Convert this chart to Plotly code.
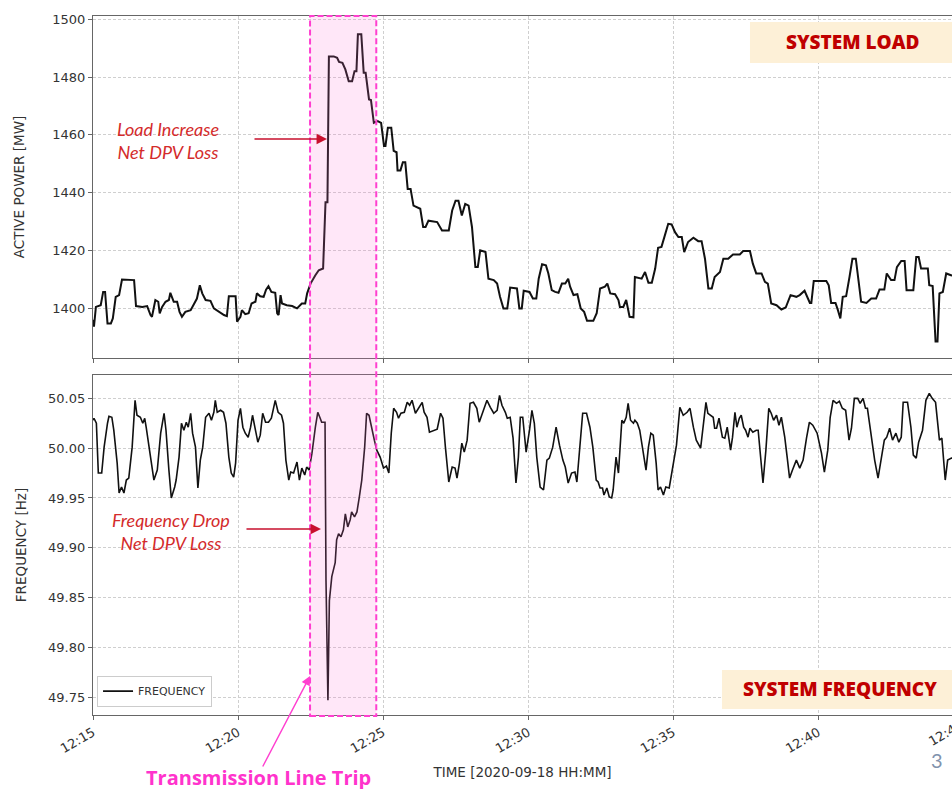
import pandas as pd
import plotly.graph_objects as go

# ---------------- data ----------------
BASE_TIME = "2020-09-18 12:15:00"

# System load: seconds after 12:15:00 and active power [MW]
LOAD_T_SEC = [0, 2, 6, 16, 21, 25, 30, 37, 41, 47, 54, 60, 85, 89, 102, 112, 119, 122, 129, 135,
              138, 143, 150, 157, 160, 167, 174, 179, 184, 191, 202, 209, 215, 221, 226, 233, 243, 250, 260, 271,
              277, 281, 295, 298, 305, 308, 315, 322, 328, 336, 339, 346, 353, 358, 363, 369, 377, 381, 384, 388,
              391, 401, 412, 422, 432, 439, 443, 450, 460, 467, 476, 481, 485, 488, 498, 505, 509, 516, 522, 529,
              536, 541, 545, 548, 555, 560, 564, 571, 575, 581, 589, 596, 602, 605, 610, 617, 622, 628, 630, 636,
              641, 646, 651, 657, 663, 670, 677, 683, 688, 694, 712, 722, 736, 743, 750, 756, 763, 770, 777, 784,
              791, 796, 801, 812, 818, 829, 836, 842, 849, 857, 863, 877, 882, 887, 891, 903, 910, 917, 922, 929,
              937, 942, 949, 956, 963, 970, 977, 983, 987, 994, 1002, 1009, 1016, 1022, 1035, 1042, 1049, 1059, 1064, 1070,
              1080, 1087, 1090, 1097, 1103, 1110, 1118, 1121, 1135, 1142, 1149, 1156, 1163, 1169, 1176, 1183, 1190, 1197, 1204, 1211,
              1218, 1223, 1231, 1242, 1252, 1259, 1266, 1273, 1280, 1286, 1297, 1304, 1314, 1324, 1338, 1345, 1359, 1365, 1372, 1383,
              1390, 1396, 1403, 1414, 1424, 1433, 1443, 1455, 1462, 1472, 1483, 1486, 1491, 1517, 1522, 1527, 1536, 1541, 1546, 1551,
              1558, 1565, 1571, 1578, 1582, 1589, 1600, 1610, 1620, 1627, 1637, 1642, 1651, 1658, 1663, 1672, 1679, 1683, 1697, 1703,
              1708, 1713, 1727, 1730, 1737, 1743, 1747, 1751, 1758, 1765, 1775, 1782]
LOAD_MW = [1396.0, 1393.6, 1400.4, 1401.0, 1405.6, 1405.6, 1394.7, 1394.7, 1396.4, 1403.9, 1404.5, 1409.9, 1409.7, 1400.7, 1400.4, 1400.7, 1397.6, 1397.0, 1402.8, 1402.2,
           1398.2, 1400.4, 1402.2, 1402.8, 1405.3, 1402.2, 1402.2, 1398.7, 1397.0, 1398.7, 1399.3, 1401.6, 1403.3, 1407.9, 1405.1, 1402.8, 1402.5, 1399.9, 1398.7, 1397.6,
           1397.2, 1404.1, 1404.1, 1395.3, 1397.0, 1399.3, 1397.9, 1398.2, 1401.6, 1402.2, 1405.1, 1404.1, 1403.9, 1406.4, 1407.6, 1405.6, 1405.3, 1398.2, 1397.6, 1404.5,
           1401.6, 1401.0, 1400.7, 1399.9, 1401.6, 1401.6, 1405.1, 1408.5, 1411.4, 1413.1, 1413.7, 1436.7, 1436.7, 1487.2, 1487.2, 1486.7, 1485.3, 1485.0, 1482.7, 1478.6,
           1478.6, 1482.1, 1482.1, 1494.9, 1494.9, 1481.5, 1481.5, 1472.3, 1472.1, 1464.2, 1464.8, 1464.2, 1456.2, 1456.2, 1462.5, 1462.5, 1454.5, 1454.0, 1447.7, 1447.7,
           1450.5, 1450.5, 1441.3, 1441.3, 1435.5, 1435.0, 1434.4, 1428.1, 1428.1, 1430.3, 1429.8, 1426.9, 1426.9, 1433.8, 1437.2, 1437.2, 1432.1, 1436.1, 1435.5, 1428.1,
           1414.2, 1414.2, 1420.0, 1419.4, 1410.2, 1409.7, 1408.5, 1403.9, 1399.9, 1399.9, 1407.1, 1406.8, 1399.9, 1399.9, 1406.0, 1405.6, 1403.3, 1403.3, 1410.2, 1415.2,
           1414.8, 1412.0, 1406.2, 1405.6, 1405.3, 1408.5, 1408.5, 1410.2, 1407.4, 1404.5, 1404.8, 1399.9, 1398.7, 1395.6, 1395.6, 1398.2, 1406.8, 1407.4, 1408.5, 1405.1,
           1404.8, 1402.8, 1400.4, 1400.4, 1402.8, 1397.0, 1396.8, 1410.8, 1410.2, 1412.5, 1408.8, 1408.8, 1413.7, 1420.9, 1421.2, 1425.2, 1429.2, 1429.0, 1426.3, 1424.6,
           1424.6, 1419.4, 1422.9, 1424.4, 1423.2, 1423.2, 1417.1, 1406.8, 1406.8, 1410.8, 1412.5, 1417.1, 1417.1, 1418.6, 1418.6, 1419.8, 1419.8, 1415.4, 1412.0, 1412.0,
           1409.1, 1408.5, 1401.6, 1401.0, 1399.5, 1400.2, 1404.5, 1403.9, 1404.5, 1406.0, 1401.8, 1401.8, 1409.4, 1409.4, 1407.9, 1401.8, 1401.8, 1399.3, 1396.4, 1403.9,
           1404.1, 1410.8, 1417.1, 1417.1, 1412.0, 1402.2, 1401.8, 1403.3, 1403.3, 1406.4, 1406.4, 1412.0, 1409.7, 1409.7, 1414.2, 1416.3, 1416.3, 1406.2, 1406.2, 1417.7,
           1417.7, 1413.7, 1413.7, 1407.9, 1407.6, 1388.4, 1388.4, 1405.1, 1405.6, 1412.0, 1411.4, 1411.0]

# System frequency: seconds after 12:15:00 and frequency [Hz]
FREQ_T_SEC = [0, 2, 7, 11, 18, 23, 30, 33, 39, 43, 50, 54, 59, 64, 69, 74, 81, 87, 91, 98,
              103, 107, 110, 116, 121, 126, 133, 140, 147, 151, 157, 162, 169, 172, 178, 183, 188, 193, 197, 202,
              206, 212, 217, 222, 227, 233, 240, 245, 250, 253, 257, 264, 270, 275, 281, 286, 291, 295, 300, 305,
              310, 315, 321, 326, 330, 336, 341, 346, 351, 357, 363, 369, 374, 377, 383, 390, 394, 399, 405, 409,
              415, 422, 427, 432, 438, 442, 447, 453, 460, 465, 470, 473, 480, 482, 486, 489, 494, 501, 504, 508,
              513, 518, 522, 527, 532, 535, 541, 546, 551, 556, 562, 566, 571, 577, 582, 587, 594, 601, 607, 612,
              617, 622, 628, 632, 637, 644, 650, 655, 660, 667, 674, 681, 685, 691, 696, 705, 712, 719, 724, 729,
              736, 743, 749, 753, 758, 763, 768, 774, 780, 787, 794, 799, 805, 809, 815, 822, 829, 836, 841, 846,
              853, 857, 863, 869, 875, 880, 884, 889, 896, 903, 908, 913, 918, 925, 932, 939, 944, 951, 958, 965,
              972, 977, 983, 990, 997, 1001, 1006, 1013, 1021, 1028, 1034, 1041, 1045, 1049, 1054, 1057, 1063, 1068, 1073, 1076,
              1082, 1087, 1094, 1098, 1103, 1107, 1112, 1118, 1121, 1126, 1131, 1138, 1144, 1149, 1154, 1159, 1165, 1169, 1174, 1180,
              1185, 1192, 1200, 1207, 1214, 1221, 1229, 1235, 1242, 1248, 1257, 1262, 1268, 1272, 1283, 1286, 1290, 1295, 1302, 1307,
              1312, 1319, 1323, 1328, 1332, 1337, 1341, 1346, 1350, 1355, 1359, 1365, 1372, 1376, 1381, 1386, 1392, 1398, 1403, 1408,
              1414, 1419, 1424, 1431, 1436, 1441, 1447, 1455, 1462, 1469, 1476, 1482, 1489, 1498, 1507, 1513, 1520, 1525, 1531, 1538,
              1544, 1550, 1557, 1564, 1569, 1575, 1582, 1587, 1593, 1598, 1602, 1610, 1617, 1624, 1631, 1637, 1642, 1648, 1654, 1661,
              1667, 1672, 1676, 1685, 1692, 1697, 1703, 1708, 1716, 1723, 1730, 1736, 1743, 1751, 1756, 1763, 1768, 1776, 1782]
FREQ_HZ = [50.028, 50.030, 50.025, 49.975, 49.975, 50.001, 50.025, 50.032, 50.031, 50.018, 49.985, 49.955, 49.961, 49.955, 49.968, 49.970, 50.001, 50.048, 50.033, 50.031,
           50.025, 50.030, 50.021, 50.001, 49.981, 49.968, 49.978, 50.015, 50.035, 50.018, 49.978, 49.950, 49.961, 49.968, 49.991, 50.025, 50.018, 50.026, 50.021, 50.035,
           50.015, 50.001, 49.960, 49.988, 50.001, 50.031, 50.035, 50.028, 50.036, 50.048, 50.036, 50.038, 50.036, 50.025, 49.991, 49.975, 49.971, 49.985, 50.028, 50.040,
           50.021, 50.015, 50.011, 50.021, 50.033, 50.018, 50.006, 50.013, 50.035, 50.026, 50.026, 50.030, 50.041, 50.048, 50.036, 50.033, 50.025, 49.988, 49.968, 49.976,
           49.975, 49.986, 49.968, 49.980, 49.973, 49.981, 49.978, 49.995, 50.021, 50.036, 50.030, 50.026, 50.026, 49.867, 49.747, 49.847, 49.871, 49.885, 49.908, 49.914,
           49.911, 49.918, 49.934, 49.921, 49.928, 49.936, 49.931, 49.936, 49.951, 49.968, 50.001, 50.035, 50.033, 50.018, 50.008, 49.998, 49.991, 49.980, 49.982, 49.975,
           50.015, 50.040, 50.036, 50.030, 50.035, 50.036, 50.046, 50.043, 50.048, 50.035, 50.040, 50.046, 50.036, 50.031, 50.016, 50.018, 50.019, 50.035, 50.030, 50.001,
           49.966, 49.981, 49.980, 49.970, 49.985, 50.005, 49.996, 50.008, 50.045, 50.046, 50.040, 50.026, 50.035, 50.040, 50.048, 50.041, 50.035, 50.038, 50.053, 50.043,
           50.036, 50.030, 50.031, 50.010, 49.965, 49.991, 50.031, 50.031, 49.996, 50.018, 50.038, 50.025, 49.991, 49.961, 49.958, 49.988, 49.990, 50.001, 50.021, 50.003,
           49.988, 49.981, 49.965, 49.975, 49.976, 49.966, 49.998, 50.035, 50.035, 50.021, 50.001, 49.968, 49.966, 49.960, 49.960, 49.953, 49.960, 49.951, 49.950, 49.958,
           49.991, 49.975, 50.028, 50.025, 50.031, 50.045, 50.028, 50.025, 50.028, 50.025, 50.018, 49.998, 49.978, 50.001, 50.015, 50.013, 49.985, 49.958, 49.961, 49.953,
           49.961, 49.960, 49.985, 50.003, 50.041, 50.033, 50.036, 50.040, 50.021, 50.008, 50.000, 50.021, 50.046, 50.035, 50.031, 50.020, 50.020, 50.030, 50.011, 50.010,
           50.021, 49.998, 50.011, 50.036, 50.021, 50.030, 50.033, 50.021, 50.018, 50.011, 50.020, 50.016, 50.018, 50.018, 49.990, 49.965, 49.998, 50.040, 50.035, 50.028,
           50.033, 50.023, 50.031, 50.011, 49.991, 49.970, 49.978, 49.988, 49.980, 49.988, 50.010, 50.026, 50.023, 50.015, 49.995, 49.976, 49.998, 50.031, 50.048, 50.045,
           50.047, 50.040, 50.038, 50.008, 50.020, 50.050, 50.050, 50.045, 50.050, 50.040, 50.040, 50.011, 49.988, 49.970, 49.991, 50.008, 50.011, 50.020, 50.008, 50.015,
           50.006, 50.011, 50.046, 50.046, 50.021, 49.993, 49.990, 50.006, 50.018, 50.048, 50.055, 50.050, 50.046, 50.008, 50.010, 49.968, 49.988, 49.990, 49.990]

# Event window (transmission line trip)
EVENT_START = "2020-09-18 12:22:29"
EVENT_END = "2020-09-18 12:24:46"

X_RANGE = ["2020-09-18 12:15:00", "2020-09-18 12:44:37"]
LOAD_TICKS = [1400, 1420, 1440, 1460, 1480, 1500]
FREQ_TICKS = [49.75, 49.80, 49.85, 49.90, 49.95, 50.00, 50.05]

# ---------------- figure ----------------
base = pd.Timestamp(BASE_TIME)
load_t = base + pd.to_timedelta(LOAD_T_SEC, unit="s")
freq_t = base + pd.to_timedelta(FREQ_T_SEC, unit="s")

fig = go.Figure()
fig.add_trace(go.Scatter(x=load_t, y=LOAD_MW, mode="lines", name="ACTIVE POWER",
                         line=dict(color="#111111", width=2.0), showlegend=False,
                         xaxis="x", yaxis="y"))
fig.add_trace(go.Scatter(x=freq_t, y=FREQ_HZ, mode="lines", name="FREQUENCY",
                         line=dict(color="#111111", width=1.6), showlegend=True,
                         xaxis="x2", yaxis="y2"))

tick_font = dict(family="DejaVu Sans", size=13, color="#333333")
title_font = dict(family="DejaVu Sans", size=13.5, color="#333333")
axis_common = dict(showline=True, linecolor="#666666", linewidth=1.2, mirror=True,
                   showgrid=True, gridcolor="#cfcfcf", gridwidth=1, griddash="3px,2px",
                   ticks="outside", ticklen=4, tickcolor="#666666", tickfont=tick_font,
                   zeroline=False)

fig.update_layout(
    width=952, height=789,
    margin=dict(l=93, r=0, t=16, b=74),
    paper_bgcolor="white", plot_bgcolor="white",
    xaxis=dict(domain=[0, 1], anchor="y", range=X_RANGE, type="date",
               dtick=300000, tickformat="%H:%M", showticklabels=False, **axis_common),
    yaxis=dict(domain=[0.5107, 1.0], anchor="x", range=[1382.7, 1501.2],
               tickvals=LOAD_TICKS,
               title=dict(text="ACTIVE POWER [MW]", font=title_font, standoff=24),
               **axis_common),
    xaxis2=dict(domain=[0, 1], anchor="y2", range=X_RANGE, type="date", matches="x",
                dtick=300000, tickformat="%H:%M", tickangle=-30,
                title=dict(text="TIME [2020-09-18 HH:MM]", font=title_font, standoff=12),
                **axis_common),
    yaxis2=dict(domain=[0.0, 0.4864], anchor="x2", range=[49.7322, 50.0734],
                tickvals=FREQ_TICKS, tickformat=".2f",
                title=dict(text="FREQUENCY [Hz]", font=title_font, standoff=18),
                **axis_common),
    legend=dict(x=0.0047, y=0.012, xanchor="left", yanchor="bottom",
                bgcolor="white", bordercolor="#cccccc", borderwidth=1,
                font=dict(family="DejaVu Sans", size=11, color="#333333")),
    showlegend=True,
)

# Event window spanning both panels
fig.add_shape(type="rect", xref="x", yref="paper", x0=EVENT_START, x1=EVENT_END,
              y0=-0.0015, y1=1.0, fillcolor="rgba(255,110,215,0.17)",
              line=dict(color="#ff3fd0", width=2, dash="6px,3px"), layer="above")

# Title boxes
fig.add_shape(type="rect", xref="paper", yref="paper", x0=0.7648, x1=1.0, y0=0.9328, y1=0.9914,
              fillcolor="#fdf0d7", line=dict(width=0), layer="above")
fig.add_shape(type="rect", xref="paper", yref="paper", x0=0.7322, x1=1.0, y0=0.0086, y1=0.0644,
              fillcolor="#fdf0d7", line=dict(width=0), layer="above")

red = "#c8102e"
ann_font = dict(family="Lato", size=18, color="#d42b2b", style="italic")
C = dict(xanchor="center", yanchor="middle", xref="paper", yref="paper")
annotations = [
    dict(x=0.8836, y=0.9628, text="SYSTEM LOAD", showarrow=False,
         font=dict(family="Open Sans", size=19, color="#c00000", weight=800), **C),
    dict(x=0.8696, y=0.0372, text="SYSTEM FREQUENCY", showarrow=False,
         font=dict(family="Open Sans", size=19, color="#c00000", weight=800), **C),
    dict(x=0.0873, y=0.8212, text="Load Increase<br>Net DPV Loss",
         showarrow=False, font=ann_font, align="center", **C),
    dict(x=0.0908, y=0.2632, text="Frequency Drop<br>Net DPV Loss",
         showarrow=False, font=ann_font, align="center", **C),
    dict(x=0.2724, y=0.8240, xref="paper", yref="paper", text="", showarrow=True,
         ax=-74, ay=0, arrowcolor=red, arrowwidth=1.6, arrowhead=2, arrowsize=1.3),
    dict(x=0.2654, y=0.2661, xref="paper", yref="paper", text="", showarrow=True,
         ax=-76, ay=0, arrowcolor=red, arrowwidth=1.6, arrowhead=2, arrowsize=1.3),
    dict(x=0.2526, y=0.0558, xref="paper", yref="paper", text="", showarrow=True,
         ax=-48, ay=92, arrowcolor="#ff3fd0", arrowwidth=1.4, arrowhead=2, arrowsize=1.3),
    dict(x=0.1932, y=-0.0901, text="Transmission Line Trip", showarrow=False,
         font=dict(family="Open Sans", size=20, color="#ff33cc", weight=700), **C),
    dict(x=0.9919, y=-0.0258, text="12:45", textangle=-30, showarrow=False,
         font=tick_font, **C),
    dict(x=0.9825, y=-0.0644, text="3", showarrow=False,
         font=dict(family="Lato", size=20, color="#8193ad"), **C),
]
fig.update_layout(annotations=annotations)

# Remove the browser's default 8px page margin so the 952x789 figure fills the window.
fig.write_html("out.html", config={"displayModeBar": False},
               post_script="document.body.style.margin='0';document.body.style.overflow='hidden';")
